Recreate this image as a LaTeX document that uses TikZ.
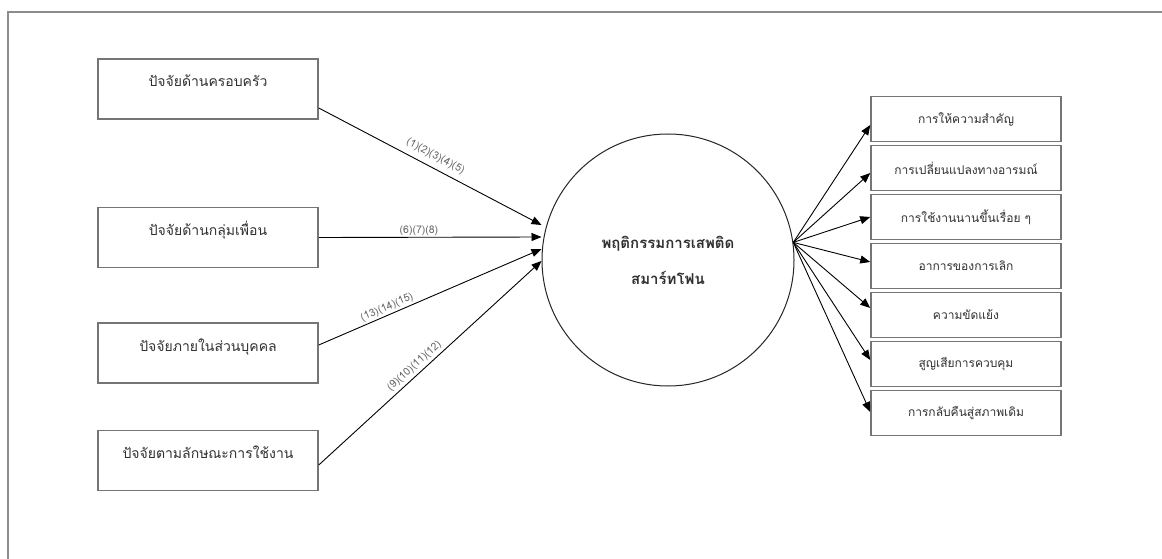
\documentclass[tikz,border=0pt]{standalone}
\usepackage{fontspec}
\newfontfamily\thaifont[Script=Thai]{Loma}
\usepackage{tikz}
\usetikzlibrary{arrows.meta}
\usetikzlibrary{calc}
\definecolor{framegray}{HTML}{8C8C8C}
\definecolor{boxgray}{HTML}{757575}
\definecolor{txtgray}{HTML}{303030}
\tikzset{
	factor/.style={draw=boxgray,line width=1.5pt,minimum width=220pt,minimum height=60pt,inner sep=0pt,text height=10pt,text depth=14pt,text=txtgray,font=\thaifont\fontsize{14}{16}\selectfont},
	symptom/.style={draw=boxgray,line width=1.5pt,minimum width=190pt,minimum height=45pt,inner sep=0pt,text=txtgray,font=\thaifont\fontsize{12}{14}\selectfont},
	hub/.style={circle,draw=black!85,line width=1pt,minimum size=252pt,inner sep=0pt,align=center,text=txtgray,font=\thaifont\bfseries\fontsize{15}{36}\selectfont},
	link/.style={-{Triangle[length=10pt,width=8pt]},line width=0.9pt},
	code/.style={text=black!60,font=\thaifont\fontsize{10.5}{11}\selectfont,inner sep=1pt},
}

\begin{document}
\begin{tikzpicture}[x=1pt,y=-1pt]
	\useasboundingbox (0,0) rectangle (1162,559);
	% frame, cut off at the right and the bottom
	\draw[framegray,line width=1.5pt] (1162,12) -- (8,12) -- (8,559);
	% factors
	\node[factor] (f1) at (208,89) {ปัจจัยด้านครอบครัว};
	\node[factor] (f2) at (208,237.5) {ปัจจัยด้านกลุ่มเพื่อน};
	\node[factor] (f3) at (208,353) {ปัจจัยภายในส่วนบุคคล};
	\node[factor] (f4) at (208,460.5) {ปัจจัยตามลักษณะการใช้งาน};
	% behaviour
	\node[hub] (hub) at (668,260) {พฤติกรรมการเสพติด\\สมาร์ทโฟน};
	% symptoms
	\node[symptom] (o1) at (966,119) {การให้ความสำคัญ};
	\node[symptom] (o2) at (966,168) {การเปลี่ยนแปลงทางอารมณ์};
	\node[symptom] (o3) at (966,217) {การใช้งานนานขึ้นเรื่อย ๆ};
	\node[symptom] (o4) at (966,266) {อาการของการเลิก};
	\node[symptom] (o5) at (966,315) {ความขัดแย้ง};
	\node[symptom] (o6) at (966,364) {สูญเสียการควบคุม};
	\node[symptom] (o7) at (966,413) {การกลับคืนสู่สภาพเดิม};
	% ends of the arrows
	\coordinate (s1) at ($(f1.east)+(0,19)$);
	\coordinate (s3) at ($(f3.east)+(0,-8)$);
	\coordinate (s4) at ($(f4.east)+(0,4.5)$);
	\coordinate (in1) at ($(hub.west)+(0,-35)$);
	\coordinate (in2) at ($(hub.west)+(0,-23)$);
	\coordinate (in3) at ($(hub.west)+(0,-11)$);
	\coordinate (in4) at ($(hub.west)+(0,1)$);
	\coordinate (fan) at (hub.8);
	\draw[link] (s1) -- node[code,sloped,above=5pt,pos=.5] {(1)(2)(3)(4)(5)} (in1);
	\draw[link] (f2.east) -- node[code,above=0pt,pos=.45] {(6)(7)(8)} (in2);
	\draw[link] (s3) -- node[code,sloped,above=1pt,pos=.32] {(13)(14)(15)} (in3);
	\draw[link] (s4) -- node[code,sloped,above=2pt,pos=.455] {(9)(10)(11)(12)} (in4);
	\foreach \i/\dy in {1/6,2/5,3/0,4/-4,5/-7,6/-4,7/-1}
		\draw[link] (fan) -- ($(o\i.west)+(0,\dy)$);
\end{tikzpicture}
\end{document}
